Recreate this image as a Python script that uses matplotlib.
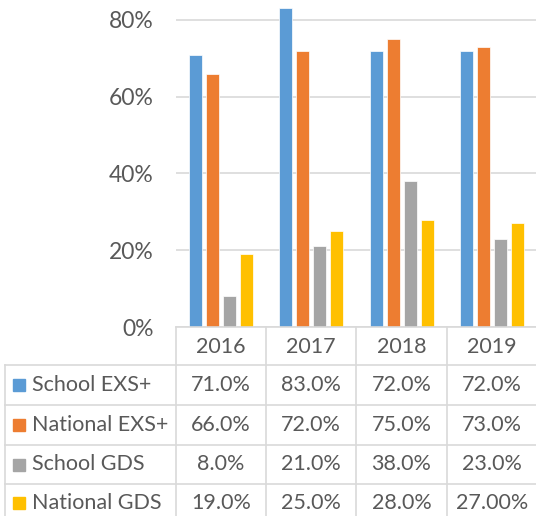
import matplotlib
matplotlib.use("Agg")
import matplotlib.pyplot as plt
import numpy as np
from matplotlib.ticker import FuncFormatter

years = ["2016", "2017", "2018", "2019"]
series_names = ["School EXS+", "National EXS+", "School GDS", "National GDS"]
school_exs = [71.0, 83.0, 72.0, 72.0]
national_exs = [66.0, 72.0, 75.0, 73.0]
school_gds = [8.0, 21.0, 38.0, 23.0]
national_gds = [19.0, 25.0, 28.0, 27.0]
cell_text = [
    ["71.0%", "83.0%", "72.0%", "72.0%"],
    ["66.0%", "72.0%", "75.0%", "73.0%"],
    ["8.0%", "21.0%", "38.0%", "23.0%"],
    ["19.0%", "25.0%", "28.0%", "27.00%"],
]
colors = ["#5B9BD5", "#ED7D31", "#A5A5A5", "#FFC000"]

W, H = 536, 516
plt.rcParams['font.family'] = ['Lato', 'DejaVu Sans']
fig = plt.figure(figsize=(W / 100, H / 100), dpi=100)
txt_color = "#595959"
grid_color = "#D9D9D9"

def fx(px):
    return px / W

def fy(py):
    return 1 - py / H

ax_left, ax_right, ax_bottom_px = 176, 537, 327
ax = fig.add_axes([fx(ax_left), fy(ax_bottom_px), fx(ax_right - ax_left), 1 - fy(ax_bottom_px)])

series = [school_exs, national_exs, school_gds, national_gds]
x = np.arange(len(years))
step = 0.188
width = 0.145
for i, (vals, c) in enumerate(zip(series, colors)):
    ax.bar(x + (i - 1.5) * step, vals, width=width, color=c, edgecolor="white", linewidth=0.5, zorder=3)

ax.set_xlim(-0.5, 3.5)
ax.set_ylim(0, 85.2)
ax.set_yticks([0, 20, 40, 60, 80])
ax.yaxis.set_major_formatter(FuncFormatter(lambda v, p: f"{int(v)}%"))
ax.tick_params(axis="y", length=0, pad=16, labelsize=16.5, labelcolor=txt_color)
ax.set_xticks([])
ax.grid(axis="y", color=grid_color, linewidth=1.2, zorder=0)
for s in ax.spines.values():
    s.set_visible(False)

# Table
row_lines = [365, 405, 445, 484]
table_left = 5
col_bounds = [176, 266, 356, 447, 537]
lw = 1.2
fig.add_artist(plt.Line2D([fx(176), fx(537)], [fy(327), fy(327)], color=grid_color, lw=lw))
for yl in row_lines:
    fig.add_artist(plt.Line2D([fx(table_left), fx(537)], [fy(yl), fy(yl)], color=grid_color, lw=lw))
for xb in col_bounds:
    fig.add_artist(plt.Line2D([fx(xb), fx(xb)], [fy(327), fy(520)], color=grid_color, lw=lw))
fig.add_artist(plt.Line2D([fx(table_left), fx(table_left)], [fy(365), fy(520)], color=grid_color, lw=lw))

fs = 15.5
for j, yr in enumerate(years):
    cx = (col_bounds[j] + col_bounds[j + 1]) / 2
    fig.text(fx(cx), fy(347), yr, ha="center", va="center", fontsize=fs, color=txt_color)

row_centers = [385, 425, 464.5, 503]
for i, name in enumerate(series_names):
    cy = row_centers[i]
    fig.add_artist(plt.Rectangle((fx(13), fy(cy + 6)), fx(12), 12 / H, color=colors[i]))
    fig.text(fx(32), fy(cy), name, ha="left", va="center", fontsize=fs, color=txt_color)
    for j in range(len(years)):
        cx = (col_bounds[j] + col_bounds[j + 1]) / 2
        fig.text(fx(cx), fy(cy), cell_text[i][j], ha="center", va="center", fontsize=fs, color=txt_color)

fig.savefig("out.png", dpi=100)
